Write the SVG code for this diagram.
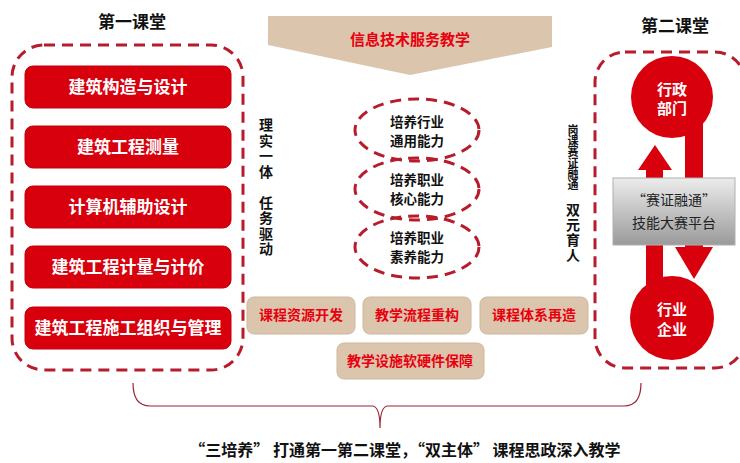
<svg xmlns="http://www.w3.org/2000/svg" width="740" height="463" viewBox="0 0 740 463">
<defs>
<linearGradient id="gray" x1="0" y1="0" x2="0" y2="1">
<stop offset="0" stop-color="#ececec"/>
<stop offset="1" stop-color="#9a9a9a"/>
</linearGradient>
<style>
text{font-family:"Noto Sans CJK SC","Noto Sans CJK JP",sans-serif;font-weight:bold;text-anchor:middle}
.title{font-size:17px;fill:#111}
.dash{fill:none;stroke:#b71c2c;stroke-width:3;stroke-dasharray:11 7}
.redbox{fill:#d8000d;stroke:#c4000a;stroke-width:1}
.wt{fill:#fff;font-size:17px}
.tan{fill:#dcc5ad;stroke:#cdb89f;stroke-width:1}
.rt{fill:#e8000e;font-size:14px}
.bt{fill:#111;font-size:13.5px}
.vert{fill:#111;writing-mode:vertical-rl;text-anchor:start}
.red{fill:#d8000d}
</style>
</defs>

<g id="first-class">
<text class="title" x="132" y="28">第一课堂</text>
<rect class="dash" x="12" y="45" width="231" height="325" rx="32"/>
</g>
<g id="c1"><rect class="redbox" x="25" y="66" width="206" height="42" rx="8"/><text class="wt" x="128" y="93">建筑构造与设计</text></g>
<g id="c2"><rect class="redbox" x="25" y="126" width="206" height="42" rx="8"/><text class="wt" x="128" y="153">建筑工程测量</text></g>
<g id="c3"><rect class="redbox" x="25" y="186" width="206" height="42" rx="8"/><text class="wt" x="128" y="213">计算机辅助设计</text></g>
<g id="c4"><rect class="redbox" x="25" y="246" width="206" height="42" rx="8"/><text class="wt" x="128" y="273">建筑工程计量与计价</text></g>
<g id="c5"><rect class="redbox" x="25" y="307" width="206" height="42" rx="8"/><text class="wt" x="128" y="334">建筑工程施工组织与管理</text></g>

<g id="banner">
<polygon points="268,16 552,16 552,47 410,75 268,45" fill="#dcc5ad"/>
<text class="rt" x="410" y="45" style="font-size:15px">信息技术服务教学</text>
</g>

<g id="left-vertical">
<text class="vert" x="266" y="118" style="font-size:14px;letter-spacing:1.5px">理实一体　任务驱动</text>
</g>

<g id="e1"><ellipse class="dash" cx="417" cy="130" rx="62" ry="31"/><text class="bt" x="417" y="127">培养行业<tspan x="417" dy="19">通用能力</tspan></text></g>
<g id="e2"><ellipse class="dash" cx="417" cy="189" rx="62" ry="31"/><text class="bt" x="417" y="185">培养职业<tspan x="417" dy="19">核心能力</tspan></text></g>
<g id="e3"><ellipse class="dash" cx="417" cy="247" rx="62" ry="31"/><text class="bt" x="417" y="243">培养职业<tspan x="417" dy="19">素养能力</tspan></text></g>

<g id="right-vertical">
<text class="vert" x="573" y="124" style="font-size:11px">岗课赛证融通</text>
<text class="vert" x="573" y="203" style="font-size:14px;letter-spacing:1px">双元育人</text>
</g>

<g id="t1"><rect class="tan" x="247" y="297" width="108" height="37" rx="7"/><text class="rt" x="301" y="320">课程资源开发</text></g>
<g id="t2"><rect class="tan" x="363" y="297" width="108" height="37" rx="7"/><text class="rt" x="417" y="320">教学流程重构</text></g>
<g id="t3"><rect class="tan" x="480" y="297" width="108" height="37" rx="7"/><text class="rt" x="534" y="320">课程体系再造</text></g>
<g id="t4"><rect class="tan" x="337" y="343" width="147" height="36" rx="7"/><text class="rt" x="410" y="366">教学设施软硬件保障</text></g>

<g id="second-class">
<text class="title" x="675" y="32">第二课堂</text>
<rect class="dash" x="595" y="52" width="150" height="316" rx="30"/>
</g>

<g id="connectors">
<rect class="red" x="685" y="120" width="18" height="130"/>
<polygon class="red" points="675,247 713,247 694,279"/>
<rect class="red" x="646" y="168" width="17" height="122"/>
<polygon class="red" points="638,170 672,170 655,145"/>
<path d="M133,383 Q133,406 150,406 L372,406 Q380,406 380,428 Q380,406 388,406 L624,406 Q641,406 641,383" fill="none" stroke="#9b2335" stroke-width="1.2"/>
</g>

<g id="admin"><circle class="red" cx="672" cy="97" r="41"/><text class="wt" x="672" y="95" style="font-size:15px">行政<tspan x="672" dy="19">部门</tspan></text></g>

<g id="platform">
<rect x="613" y="178" width="122" height="67" fill="url(#gray)" stroke="#b0b0b0"/>
<text x="674" y="205" style="font-size:14px;fill:#222;font-weight:normal">“赛证融通”<tspan x="674" dy="23">技能大赛平台</tspan></text>
</g>

<g id="industry"><circle class="red" cx="672" cy="318" r="42"/><text class="wt" x="672" y="315" style="font-size:15px">行业<tspan x="672" dy="20">企业</tspan></text></g>

<text x="405" y="456" style="font-size:16px;fill:#111;white-space:pre" xml:space="preserve">“三培养” 打通第一第二课堂，“双主体” 课程思政深入教学</text>
</svg>
